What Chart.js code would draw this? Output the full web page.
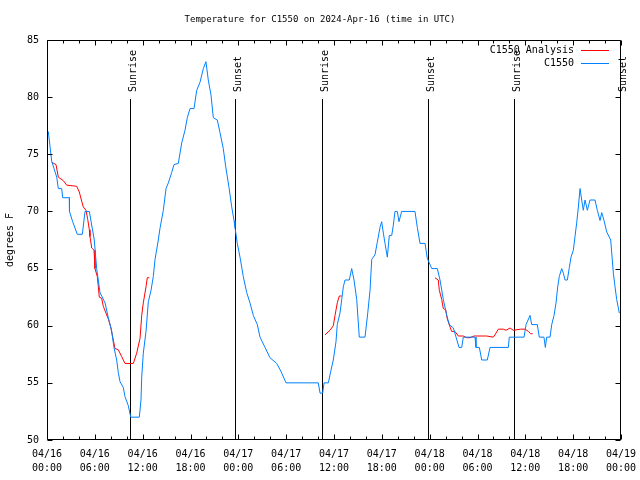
<!DOCTYPE html>
<html>
<head>
<meta charset="utf-8">
<script src="https://cdn.jsdelivr.net/npm/chart.js@4/dist/chart.umd.min.js"></script>
<style>
html,body{margin:0;padding:0;background:#fff;}
#wrap{width:640px;height:480px;}
</style>
</head>
<body>
<div id="wrap"><canvas id="c" width="640" height="480"></canvas></div>
<script>
// ---- data (hours since 04/16 00:00 UTC, degrees F) ----
const titleText = 'Temperature for C1550 on 2024-Apr-16 (time in UTC)';
const yAxisLabel = 'degrees F';
const tickDates = ['04/16','04/16','04/16','04/16','04/17','04/17','04/17','04/17','04/18','04/18','04/18','04/18','04/19'];
const tickTimes = ['00:00','06:00','12:00','18:00','00:00','06:00','12:00','18:00','00:00','06:00','12:00','18:00','00:00'];
const seriesNames = ['C1550 Analysis','C1550'];

const blueHours = [0.16,0.59,1.22,1.42,1.84,1.97,2.80,2.82,3.22,3.80,
4.43,4.77,5.31,5.93,6.23,6.65,7.28,7.69,8.12,8.40,
8.74,8.94,9.16,9.57,9.78,10.20,10.50,11.58,11.79,11.88,
12.08,12.42,12.71,13.05,13.33,13.55,13.96,14.17,14.59,14.93,
15.22,15.64,15.93,16.47,16.90,17.31,17.60,17.94,18.44,18.78,
19.19,19.61,19.94,20.23,20.57,20.86,21.36,21.70,22.11,22.42,
22.83,23.17,23.46,23.58,23.87,24.21,24.62,25.05,25.46,25.88,
26.38,26.72,27.35,27.97,28.81,29.35,29.98,34.03,34.25,34.58,
34.75,35.29,35.59,35.91,36.25,36.41,36.75,36.97,37.17,37.38,
37.92,38.22,38.51,38.85,39.17,39.89,40.23,40.52,40.73,41.14,
41.43,41.77,41.98,42.19,42.40,42.69,42.94,43.24,43.44,43.65,
43.94,44.15,44.49,46.16,46.45,46.79,47.42,47.70,48.26,48.96,
49.30,49.71,50.14,50.47,50.97,51.31,51.68,52.02,52.22,53.69,
53.81,54.23,54.53,55.23,55.57,57.87,57.99,59.84,60.09,60.59,
60.80,61.50,61.75,62.34,62.51,62.68,63.10,63.31,63.60,63.85,
64.06,64.26,64.56,64.77,64.98,65.27,65.52,65.73,66.02,66.23,
66.44,66.64,66.86,67.07,67.27,67.49,67.78,68.11,68.74,69.03,
69.37,69.58,69.87,70.21,70.71,71.04,71.25,71.46,71.79];
const blueTemps = [77.0,74.4,73.0,72.0,72.0,71.2,71.2,70.0,69.1,68.0,
68.0,70.0,70.0,67.5,65.0,62.9,62.0,60.7,59.5,58.1,
57.0,55.9,55.1,54.6,53.8,53.0,52.0,52.0,53.5,55.5,
57.6,59.5,62.1,63.1,64.3,65.8,67.5,68.5,70.1,72.0,
72.5,73.4,74.1,74.2,76.0,77.1,78.2,79.0,79.0,80.6,
81.3,82.5,83.1,81.5,80.2,78.2,78.0,76.9,75.5,73.9,
72.1,70.4,69.2,68.6,67.2,66.0,64.3,62.9,62.0,60.9,
60.1,59.0,58.1,57.2,56.7,56.0,55.0,55.0,54.1,54.1,
55.0,55.0,56.0,57.0,58.6,60.1,61.1,62.3,63.4,64.0,
64.0,65.0,64.0,62.3,59.0,59.0,61.1,63.1,65.8,66.2,
67.3,68.6,69.1,68.1,67.2,66.0,67.9,67.9,68.8,70.0,
70.0,69.1,70.0,70.0,68.6,67.2,67.2,65.9,65.0,65.0,
64.0,62.3,60.9,60.1,59.8,59.0,58.1,58.1,59.0,59.0,
58.1,58.1,57.0,57.0,58.1,58.1,59.0,59.0,60.1,60.9,
60.1,60.1,59.0,59.0,58.1,59.0,59.0,60.1,60.9,62.0,
63.4,64.3,65.0,64.6,64.0,64.0,65.1,66.0,66.6,67.8,
69.0,70.3,72.0,71.0,70.1,71.0,70.1,71.0,71.0,70.1,
69.2,69.9,69.2,68.2,67.5,64.6,63.4,62.3,61.1];

const redHours = [0.59,1.13,1.42,2.04,2.47,3.73,4.05,4.35,4.55,4.89,
5.11,5.31,5.39,5.61,5.90,6.02,6.31,6.44,6.56,6.86,
7.06,7.40,7.69,7.99,8.24,8.53,8.94,9.37,9.78,10.83,
11.25,11.67,11.88,12.08,12.42,12.58,12.83,
20.0,
34.87,35.50,35.91,36.13,36.41,36.67,36.97,
40.0,
48.67,49.08,49.21,49.51,49.71,50.01,50.21,50.55,50.76,51.17,
51.59,52.22,52.65,53.06,53.56,55.15,55.98,56.19,56.61,57.24,
57.58,58.08,58.49,59.42,59.96,60.38,60.67,60.92];
const redTemps = [74.3,74.1,73.0,72.7,72.3,72.2,71.7,70.9,70.4,70.1,
69.3,68.4,67.8,66.8,66.6,65.0,64.3,63.4,62.5,62.4,
61.7,61.1,60.6,59.9,59.0,58.0,57.9,57.3,56.7,56.7,
57.6,58.9,60.9,62.0,63.4,64.2,64.2,
null,
59.2,59.6,60.0,60.9,62.0,62.6,62.6,
null,
64.2,64.0,63.1,62.3,61.5,61.4,60.6,59.9,59.5,59.5,
59.1,59.1,58.95,58.95,59.1,59.1,59.0,59.2,59.7,59.7,
59.6,59.8,59.6,59.7,59.7,59.5,59.3,59.3];

const eventHours = [10.41, 23.58, 34.50, 47.73, 58.58, 71.88];
const eventLabels = ['Sunrise','Sunset','Sunrise','Sunset','Sunrise','Sunset'];

const RED = '#ff0000';
const BLUE = '#0080ff';
const FONT = 'DejaVu Sans Mono';

function pts(xs, ys){ return xs.map((x,i)=>({x:x, y:ys[i]})); }

const eventsPlugin = {
  id:'events',
  beforeDatasetsDraw(chart){
    const ctx = chart.ctx, a = chart.chartArea, xs = chart.scales.x;
    ctx.save();
    ctx.strokeStyle = '#000'; ctx.lineWidth = 1;
    ctx.fillStyle = '#000';
    ctx.font = '10px "' + FONT + '"';
    eventHours.forEach((h,i)=>{
      const x = Math.round(xs.getPixelForValue(h)) + 0.5;
      ctx.beginPath(); ctx.moveTo(x, a.top + 59); ctx.lineTo(x, a.bottom); ctx.stroke();
      ctx.save();
      ctx.translate(x, a.top + 52);
      ctx.rotate(-Math.PI/2);
      ctx.textAlign = 'left'; ctx.textBaseline = 'alphabetic';
      ctx.fillText(eventLabels[i], 0, 5.5);
      ctx.restore();
    });
    ctx.restore();
  }
};

const framePlugin = {
  id:'frame',
  afterDatasetsDraw(chart){
    const ctx = chart.ctx, a = chart.chartArea, xs = chart.scales.x, ys = chart.scales.y;
    ctx.save();
    ctx.strokeStyle = '#000'; ctx.lineWidth = 1;
    const L = Math.round(a.left)+0.5, R = Math.round(a.right)-0.5, T = Math.round(a.top)+0.5, B = Math.round(a.bottom)-0.5;
    ctx.beginPath(); ctx.rect(L, T, R-L, B-T); ctx.stroke();
    ctx.beginPath();
    for (let h = 0; h <= 72; h += 2){
      const x = Math.round(xs.getPixelForValue(h)) + 0.5;
      const len = (h % 6 === 0) ? 5 : 3;
      ctx.moveTo(x, B); ctx.lineTo(x, B - len);
      ctx.moveTo(x, T); ctx.lineTo(x, T + len);
    }
    for (let v = 50; v <= 85; v += 5){
      const y = Math.round(ys.getPixelForValue(v)) + 0.5;
      ctx.moveTo(L, y); ctx.lineTo(L + 5, y);
      ctx.moveTo(R, y); ctx.lineTo(R - 5, y);
    }
    ctx.stroke();
    ctx.font = '10px "' + FONT + '"';
    ctx.fillStyle = '#000';
    ctx.textAlign = 'right'; ctx.textBaseline = 'middle';
    const colors = [RED, BLUE];
    seriesNames.forEach((n,i)=>{
      const y = a.top + 9.5 + i*13;
      ctx.fillText(n, a.right - 47, y + 0.5);
      ctx.strokeStyle = colors[i];
      ctx.beginPath(); ctx.moveTo(a.right - 40, Math.round(y)+0.5); ctx.lineTo(a.right - 12, Math.round(y)+0.5); ctx.stroke();
    });
    ctx.restore();
  }
};

new Chart(document.getElementById('c'), {
  type:'line',
  data:{
    datasets:[
      {label:seriesNames[0], data:pts(redHours, redTemps), borderColor:RED, borderWidth:1, pointRadius:0, tension:0, spanGaps:false, order:1},
      {label:seriesNames[1], data:pts(blueHours, blueTemps), borderColor:BLUE, borderWidth:1, pointRadius:0, tension:0, order:0}
    ]
  },
  options:{
    responsive:false,
    animation:false,
    devicePixelRatio:1,
    layout:{padding:0},
    plugins:{
      legend:{display:false},
      tooltip:{enabled:false},
      title:{display:true, text:titleText, color:'#000', font:{family:FONT, size:9, weight:'normal'}, padding:{top:14, bottom:15.2}}
    },
    scales:{
      x:{
        type:'linear', min:0, max:72,
        grid:{display:false, drawTicks:false},
        border:{display:false},
        afterFit(s){ s.height = 40; s.paddingLeft = 0; s.paddingRight = 19; },
        ticks:{
          stepSize:6, autoSkip:false, maxRotation:0, padding:7, color:'#000',
          font:{family:FONT, size:10, lineHeight:1.4},
          callback(v){ const i = Math.round(v/6); return [tickDates[i], tickTimes[i]]; }
        }
      },
      y:{
        min:50, max:85,
        grid:{display:false, drawTicks:false},
        border:{display:false},
        afterFit(s){ s.width = 47; s.paddingTop = 0; s.paddingBottom = 0; },
        title:{display:true, text:yAxisLabel, color:'#000', font:{family:FONT, size:10}, padding:{top:4, bottom:0}},
        ticks:{stepSize:5, padding:8, color:'#000', font:{family:FONT, size:10}}
      }
    }
  },
  plugins:[eventsPlugin, framePlugin]
});
</script>
</body>
</html>
